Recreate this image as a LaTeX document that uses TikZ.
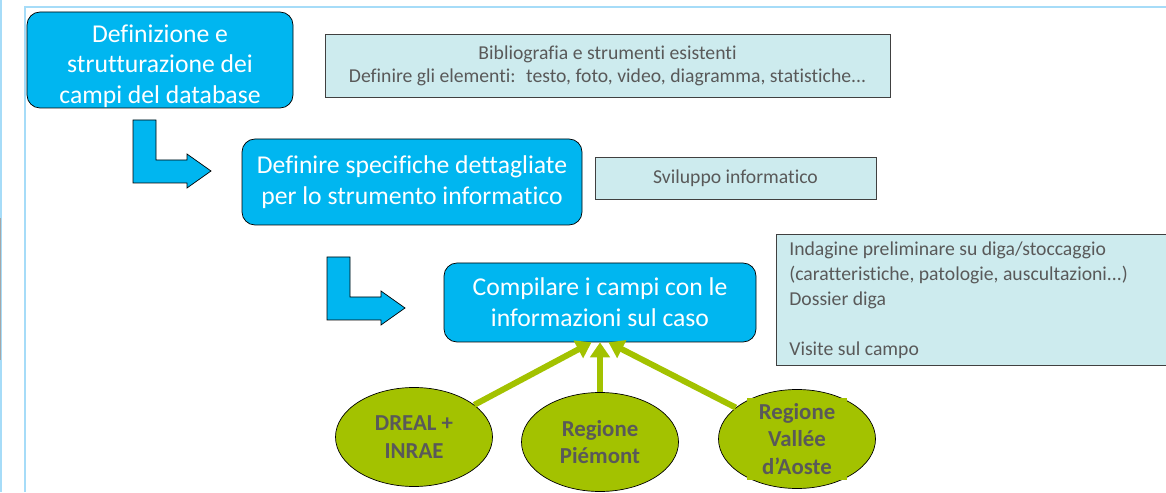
\documentclass[tikz,border=0pt]{standalone}
\usepackage{fontspec}
\setmainfont{Carlito}[Ligatures=NoCommon]
\usetikzlibrary{shapes.geometric,arrows.meta}

\definecolor{stepblue}{RGB}{0,182,240}
\definecolor{notecyan}{RGB}{205,235,238}
\definecolor{notegray}{RGB}{89,89,89}
\definecolor{leafgreen}{RGB}{163,194,0}
\definecolor{frameblue}{RGB}{166,220,248}

\tikzset{
  stepbox/.style={draw=black, fill=stepblue, rounded corners=0.26cm, text=white, align=center, inner sep=0pt, font=\fontsize{14.6}{17.5}\selectfont},
  notebox/.style={draw=black!75, fill=notecyan, text=notegray, inner sep=0pt, font=\fontsize{11.2}{13}\selectfont},
  regione/.style={ellipse, draw=black, fill=leafgreen, minimum width=3.14cm, minimum height=1.98cm, inner sep=0pt},
  regtext/.style={text=notegray, align=center, inner sep=0pt, font=\bfseries\fontsize{13}{15.7}\selectfont},
  feed/.style={draw=leafgreen, line width=3.4pt, -{Triangle[width=11pt,length=8.5pt]}}
}

\begin{document}
\begin{tikzpicture}
\useasboundingbox (0,0) rectangle (23.32,9.84);

\draw[frameblue, line width=1.1pt] (0.02,0) -- (0.02,9.84);
\draw[black!35, line width=1pt] (0.01,2.64) -- (0.01,5.48);
\draw[frameblue, line width=1.1pt] (0.50,0) -- (0.50,9.70) -- (23.32,9.70);

\node[stepbox, minimum width=5.32cm, minimum height=1.92cm] (campi) at (3.20,8.64) {\rule{0pt}{17pt}Definizione e\\strutturazione dei\\campi del database};
\node[notebox, align=center, minimum width=11.3cm, minimum height=1.26cm] (biblio) at (12.15,8.53) {Bibliografia e strumenti esistenti\\Definire gli elementi:~ testo, foto, video, diagramma, statistiche...};

\node[stepbox, minimum width=6.8cm, minimum height=1.72cm] (specifiche) at (8.24,6.20) {Definire specifiche dettagliate\\per lo strumento informatico};
\node[notebox, minimum width=5.62cm, minimum height=0.84cm] (sviluppo) at (14.71,6.28) {Sviluppo informatico};

\node[stepbox, minimum width=6.24cm, minimum height=1.58cm] (compila) at (12.0,3.79) {Compilare i campi con le\\informazioni sul caso};
\node[notebox, anchor=north west, align=flush left, text width=7.32cm, inner xsep=0.26cm, minimum height=2.62cm, font=\fontsize{11.2}{14.2}\selectfont] (indagine) at (15.52,5.16) {Indagine preliminare su diga/stoccaggio\\(caratteristiche, patologie, auscultazioni...)\\Dossier diga\\[14.2pt]Visite sul campo};

\begin{scope}[xshift=2.66cm,yshift=7.44cm]
\filldraw[fill=stepblue, draw=black] (0,0) -- (0.46,0) -- (0.46,-0.80) -- (1.08,-0.80) -- (1.08,-0.68) -- (1.56,-1.02) -- (1.08,-1.36) -- (1.08,-1.26) -- (0,-1.26) -- cycle;
\end{scope}

\begin{scope}[xshift=6.54cm,yshift=4.70cm]
\filldraw[fill=stepblue, draw=black] (0,0) -- (0.46,0) -- (0.46,-0.80) -- (1.08,-0.80) -- (1.08,-0.68) -- (1.56,-1.02) -- (1.08,-1.36) -- (1.08,-1.26) -- (0,-1.26) -- cycle;
\end{scope}

\node[regione, label={[regtext]center:{DREAL +\\INRAE}}] (dreal) at (8.28,1.10) {};
\node[regione, label={[regtext]center:{Regione\\Piémont}}] (piemont) at (12.0,1.00) {};
\node[regione, label={[regtext, fill=leafgreen, minimum width=2cm, minimum height=1.64cm]center:{Regione\\Vallée\\d’Aoste}}] (aoste) at (15.94,1.06) {};

\draw[feed] (dreal) -- ([xshift=-0.17cm]compila.south);
\draw[feed] (piemont) -- (compila.south);
\draw[feed] (aoste) -- ([xshift=0.17cm]compila.south);
\end{tikzpicture}
\end{document}
